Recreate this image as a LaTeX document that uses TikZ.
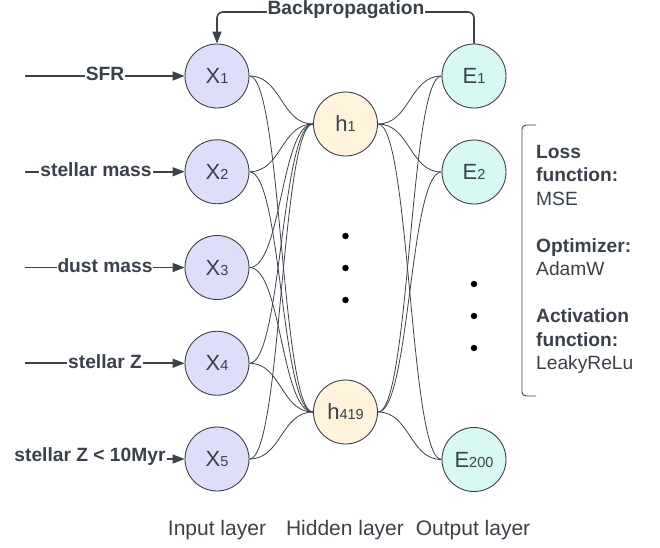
\documentclass[tikz,border=0pt]{standalone}
\usepackage{fontspec}
\setmainfont{Liberation Sans}
\usetikzlibrary{arrows.meta,calc}
\definecolor{ink}{HTML}{3A414A}
\definecolor{xfill}{HTML}{DEDEFA}
\definecolor{hfill}{HTML}{FFF3DB}
\definecolor{efill}{HTML}{D7F8F3}
\tikzset{
  neuron/.style={circle, draw=ink, line width=0.9pt, minimum size=64pt, inner sep=0pt, text=ink},
  xn/.style={neuron, fill=xfill},
  hn/.style={neuron, fill=hfill},
  en/.style={neuron, fill=efill},
  wire/.style={draw=ink, line width=0.8pt},
  inarrow/.style={draw=ink, line width=1.6pt, -{Triangle[length=12pt,width=9pt]}},
  lbl/.style={fill=white, inner sep=1pt, text=ink, font=\fontsize{19.2}{21}\selectfont\bfseries},
  layer/.style={text=ink, font=\fontsize{21}{23}\selectfont},
  dotm/.style={circle, fill=black, inner sep=0pt, minimum size=6.5pt},
}
\newcommand{\nlab}[2]{{\fontsize{22}{22}\selectfont #1}{\fontsize{14.5}{14.5}\selectfont #2}}
\begin{document}
\begin{tikzpicture}[x=1pt, y=-1pt]
\useasboundingbox (0,0) rectangle (660,547);
% nodes
\node[xn] (x1) at (217,76) {\nlab{X}{1}};
\node[xn] (x2) at (217,171.75) {\nlab{X}{2}};
\node[xn] (x3) at (217,267.5) {\nlab{X}{3}};
\node[xn] (x4) at (217,363.25) {\nlab{X}{4}};
\node[xn] (x5) at (217,459) {\nlab{X}{5}};
\node[hn] (h1) at (345.5,124) {\nlab{h}{1}};
\node[hn] (h2) at (345.5,412) {\nlab{h}{419}};
\node[en] (e1) at (474,76) {\nlab{E}{1}};
\node[en] (e2) at (474,172) {\nlab{E}{2}};
\node[en] (e3) at (474,459.5) {\nlab{E}{200}};
% connections
\foreach \a in {x1,x2,x3,x4,x5}{
  \foreach \b in {h1,h2}{
    \draw[wire] (\a.east) .. controls ($(\a.east)+(32,0)$) and ($(\b.west)+(-32,0)$) .. (\b.west);
  }
}
\foreach \a in {h1,h2}{
  \foreach \b in {e1,e2,e3}{
    \draw[wire] (\a.east) .. controls ($(\a.east)+(32,0)$) and ($(\b.west)+(-32,0)$) .. (\b.west);
  }
}
% dots
\node[dotm] (d1) at (345.5,236) {};
\node[dotm] (d2) at (345.5,268) {};
\node[dotm] (d3) at (345.5,300) {};
\node[dotm] (d4) at (474,284) {};
\node[dotm] (d5) at (474,316) {};
\node[dotm] (d6) at (474,348) {};
% inputs
\coordinate (s1) at (25,76);
\coordinate (s2) at (25,171.75);
\coordinate (s3) at (25,267.5);
\coordinate (s4) at (25,363.25);
\coordinate (s5) at (25,459);
\draw[inarrow] (s1) -- (x1.west);
\draw[inarrow] (s2) -- (x2.west);
\draw[inarrow] (s3) -- (x3.west);
\draw[inarrow] (s4) -- (x4.west);
\draw[inarrow] (s5) -- (x5.west);
\node[lbl] (l1) at (105,74) {SFR};
\node[lbl] (l2) at (96,169.75) {stellar mass};
\node[lbl] (l3) at (105,265.5) {dust mass};
\node[lbl] (l4) at (105,361.25) {stellar Z};
\node[lbl] (l5) at (90,457) {stellar Z < 10Myr};
% backprop
\coordinate (bpr) at (474,12);
\coordinate (bpl) at (217,12);
\draw[draw=ink, line width=1.6pt, rounded corners=6pt, -{Triangle[length=12pt,width=9pt]}] (e1.north) -- (bpr) -- (bpl) -- (x1.north);
\node[lbl] (bp) at (346,10) {Backpropagation};
% bracket and side text
\coordinate (b1) at (536,125);
\coordinate (b2) at (522,125);
\coordinate (b3) at (522,396);
\coordinate (b4) at (536,396);
\draw[draw=ink, line width=0.9pt, rounded corners=4pt] (b1) -- (b2) -- (b3) -- (b4);
\node[anchor=north west, inner sep=0pt, align=left, text=ink,
      font=\fontsize{19.2}{23.5}\selectfont] (side) at (536,145)
  {\textbf{Loss}\\ \textbf{function:}\\ MSE\\[23.5pt]
   \textbf{Optimizer:}\\ AdamW\\[23.5pt]
   \textbf{Activation}\\ \textbf{function:}\\ LeakyReLu};
% layer labels
\node[layer] (il) at (217,530) {Input layer};
\node[layer] (hl) at (345,530) {Hidden layer};
\node[layer] (ol) at (473,530) {Output layer};
\end{tikzpicture}
\end{document}
